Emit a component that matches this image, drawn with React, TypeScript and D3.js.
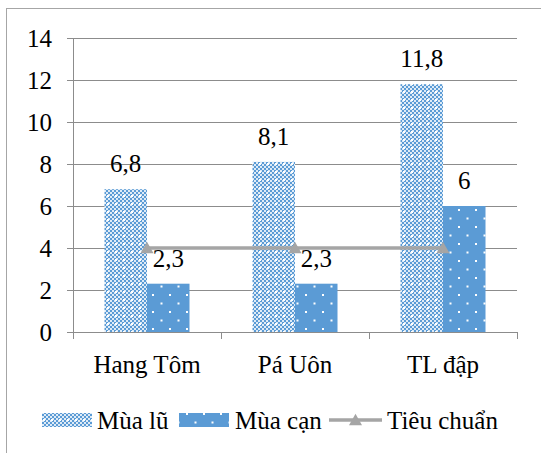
import React from "react";
import * as d3 from "d3";

const categories = ["Hang Tôm", "Pá Uôn", "TL đập"];
const seriesNames = ["Mùa lũ", "Mùa cạn"];
const muaLu = [6.8, 8.1, 11.8];
const muaCan = [2.3, 2.3, 6];
const tieuChuan = [4, 4, 4];
const yTicks = [0, 2, 4, 6, 8, 10, 12, 14];
const lineName = "Tiêu chuẩn";

const W = 541;
const H = 453;
const plotLeft = 73;
const plotRight = 517;
const plotTop = 38;
const plotBottom = 332;
const FONT = '"Liberation Serif", serif';
const BLUE = "#5B9BD5";
const GRID = "#8C8C8C";
const LINE = "#A5A5A5";

const fmt = (v: number) => String(v).replace(".", ",");

export default function App() {
  const x = d3.scaleBand<string>().domain(categories).range([plotLeft, plotRight]).padding(0);
  const bw = x.bandwidth();
  const gap = bw * 0.2128;
  const xs = d3.scaleBand<string>().domain(seriesNames).range([gap, bw - gap]).padding(0);
  const y = d3.scaleLinear().domain([0, 14]).range([plotBottom, plotTop]);
  const values = [muaLu, muaCan];
  const fills = ["url(#patLu)", "url(#patCan)"];
  const tri = (cx: number, cy: number, s = 6.5) =>
    `M${cx - s},${cy + s * 0.8}L${cx},${cy - s * 0.95}L${cx + s},${cy + s * 0.8}Z`;
  const lineGen = d3
    .line<number>()
    .x((_, i) => (x(categories[i]) as number) + bw / 2)
    .y((d) => y(d));
  const ts = { font: '25px "Liberation Serif", serif', fill: "#000" };

  return (
    <svg
      width={W}
      height={H}
      fontFamily={FONT}
      style={{ position: "absolute", left: 0, top: 0, background: "#fff", font: '25px "Liberation Serif", serif' }}
    >
      <style>{`svg text { font-family: "Liberation Serif", serif !important; }`}</style>
      <defs>
        <pattern id="patLu" width="8" height="8" patternUnits="userSpaceOnUse">
          <rect width="8" height="8" fill="#fff" />
          {[0, 2, 4, 6].map((px) =>
            [0, 2, 4, 6].map((py) =>
              (px + py) % 4 === 0 ? (
                <rect key={`${px}-${py}`} x={px} y={py} width="2" height="2" fill={BLUE} />
              ) : null
            )
          )}
          <rect x="0" y="0" width="8" height="8" fill={BLUE} opacity="0.2" />
          <rect x="3" y="3" width="2" height="2" fill="#fff" />
        </pattern>
        <pattern id="patCan" width="17" height="17" patternUnits="userSpaceOnUse" x="148" y="0">
          <rect width="17" height="17" fill={BLUE} />
          <rect x="4" y="5" width="2" height="2" fill="#fff" />
          <rect x="12.5" y="13.5" width="2" height="2" fill="#fff" />
        </pattern>
      </defs>
      <rect x={6.5} y={8.5} width={600} height={500} fill="none" stroke="#A6A6A6" />

      {yTicks.map((t) => (
        <line
          key={t}
          x1={plotLeft - 6}
          x2={plotRight}
          y1={Math.round(y(t)) + 0.5}
          y2={Math.round(y(t)) + 0.5}
          stroke={GRID}
          strokeWidth={1}
        />
      ))}
      <line x1={plotLeft + 0.5} x2={plotLeft + 0.5} y1={plotTop} y2={plotBottom + 7} stroke={GRID} />
      {categories.map((c) => (
        <line
          key={c}
          x1={(x(c) as number) + bw + 0.5}
          x2={(x(c) as number) + bw + 0.5}
          y1={plotBottom}
          y2={plotBottom + 7}
          stroke={GRID}
        />
      ))}
      {yTicks.map((t) => (
        <text key={t} x={52} y={y(t) + 8.5} textAnchor="end" fontFamily={FONT} style={ts}>
          {t}
        </text>
      ))}

      {values.map((vals, si) =>
        vals.map((v, ci) => {
          const bx = (x(categories[ci]) as number) + (xs(seriesNames[si]) as number);
          return (
            <rect
              key={`${si}-${ci}`}
              x={bx}
              y={y(v)}
              width={xs.bandwidth()}
              height={y(0) - y(v)}
              fill={fills[si]}
            />
          );
        })
      )}
      <path d={lineGen(tieuChuan) || ""} fill="none" stroke={LINE} strokeWidth={3.5} />
      {tieuChuan.map((v, i) => (
        <path key={i} d={tri((x(categories[i]) as number) + bw / 2, y(v))} fill={LINE} />
      ))}
      {values.map((vals, si) =>
        vals.map((v, ci) => {
          const bx = (x(categories[ci]) as number) + (xs(seriesNames[si]) as number) + xs.bandwidth() / 2;
          return (
            <text key={`l${si}-${ci}`} x={bx} y={y(v) - 17} textAnchor="middle" fontFamily={FONT} style={ts}>
              {fmt(v)}
            </text>
          );
        })
      )}
      {categories.map((c) => (
        <text key={c} x={(x(c) as number) + bw / 2} y={373} textAnchor="middle" fontFamily={FONT} style={ts}>
          {c}
        </text>
      ))}

      <rect x={42} y={413} width={50} height={14} fill="url(#patLu)" />
      <text x={97} y={429} fontFamily={FONT} style={ts}>{seriesNames[0]}</text>
      <rect x={179} y={413} width={50} height={14} fill="url(#patCan)" />
      <text x={235} y={429} fontFamily={FONT} style={ts}>{seriesNames[1]}</text>
      <line x1={329} x2={382} y1={420} y2={420} stroke={LINE} strokeWidth={3.5} />
      <path d={tri(355.5, 420)} fill={LINE} />
      <text x={387} y={429} fontFamily={FONT} style={ts}>{lineName}</text>
    </svg>
  );
}
